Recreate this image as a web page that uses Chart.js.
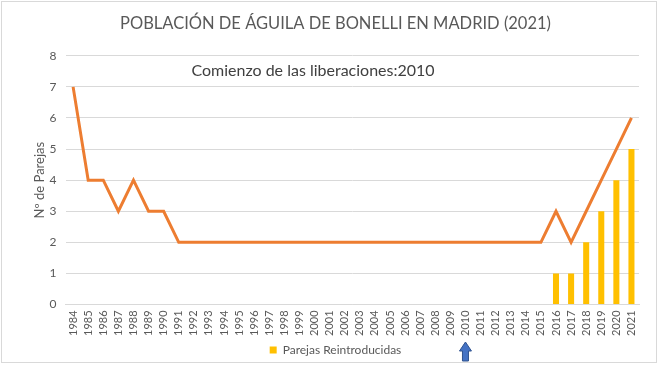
<!DOCTYPE html>
<html>
<head>
<meta charset="utf-8">
<script src="https://cdn.jsdelivr.net/npm/chart.js@4"></script>
<style>
  html, body { margin: 0; padding: 0; background: #fff; }
  #wrap { position: absolute; left: 1px; top: 1px; width: 656px; height: 362px; border: 1px solid #d9d9d9; box-sizing: border-box; }
  canvas { position: absolute; left: 0; top: 0; }
</style>
</head>
<body>
<div id="wrap"><canvas id="chart" width="654" height="360"></canvas></div>
<script>
// --- Datos ---
const years = ['1984','1985','1986','1987','1988','1989','1990','1991','1992','1993','1994','1995','1996','1997','1998','1999','2000','2001','2002','2003','2004','2005','2006','2007','2008','2009','2010','2011','2012','2013','2014','2015','2016','2017','2018','2019','2020','2021'];
const parejas = [7,4,4,3,4,3,3,2,2,2,2,2,2,2,2,2,2,2,2,2,2,2,2,2,2,2,2,2,2,2,2,2,3,2,3,4,5,6];
const reintroducidas = [null,null,null,null,null,null,null,null,null,null,null,null,null,null,null,null,null,null,null,null,null,null,null,null,null,null,null,null,null,null,null,null,1,1,2,3,4,5];
const yTicks = [0,1,2,3,4,5,6,7,8];
const startYear = '2010';
const notaTexto = 'Comienzo de las liberaciones:' + startYear;

const fontFam = 'Lato, "Open Sans", sans-serif';

// --- Texto y flecha ---
const extras = {
    id: 'extras',
    afterDraw(chart) {
        const c = chart.ctx;
        const x = chart.scales.x;
        const y = chart.scales.y;
        c.save();
        c.font = '16px ' + fontFam;
        c.fillStyle = '#404040';
        c.textAlign = 'center';
        c.textBaseline = 'middle';
        c.fillText(notaTexto, 311, y.getPixelForValue(7.53));

        // flecha azul bajo 2010
        const ax = x.getPixelForValue(years.indexOf(startYear));
        const top = 340, bot = 359;
        c.beginPath();
        c.moveTo(ax, top);
        c.lineTo(ax + 6, top + 9);
        c.lineTo(ax + 3, top + 9);
        c.lineTo(ax + 3, bot);
        c.lineTo(ax - 3, bot);
        c.lineTo(ax - 3, top + 9);
        c.lineTo(ax - 6, top + 9);
        c.closePath();
        c.fillStyle = '#4472c4';
        c.strokeStyle = '#2f528f';
        c.lineWidth = 1;
        c.fill();
        c.stroke();
        c.restore();
    }
};

const ctx = document.getElementById('chart').getContext('2d');
new Chart(ctx, {
    data: {
        labels: years,
        datasets: [{
            type: 'line',
            label: 'Parejas',
            data: parejas,
            borderColor: '#ed7d31',
            borderWidth: 3,
            pointRadius: 0,
            tension: 0,
            order: 0
        }, {
            type: 'bar',
            label: 'Parejas Reintroducidas',
            data: reintroducidas,
            backgroundColor: '#ffc000',
            barPercentage: 0.4,
            categoryPercentage: 1,
            order: 1
        }]
    },
    options: {
        responsive: false,
        animation: false,
        layout: { padding: { left: 30, right: 17, top: 8, bottom: -4 } },
        plugins: {
            title: {
                display: true,
                text: 'POBLACIÓN DE ÁGUILA DE BONELLI EN MADRID (2021)',
                color: '#595959',
                font: { family: fontFam, size: 16.5, weight: 'normal' },
                padding: { top: 4, bottom: 22 }
            },
            legend: {
                position: 'bottom',
                labels: {
                    filter: item => item.datasetIndex === 1,
                    boxWidth: 7,
                    boxHeight: 7,
                    color: '#595959',
                    font: { family: fontFam, size: 12 },
                    padding: 2
                }
            },
            tooltip: { enabled: false }
        },
        scales: {
            x: {
                offset: true,
                grid: { display: false, drawTicks: false },
                border: { color: '#d9d9d9' },
                ticks: {
                    color: '#595959',
                    font: { family: fontFam, size: 11 },
                    maxRotation: 90,
                    minRotation: 90,
                    autoSkip: false,
                    padding: 6
                }
            },
            y: {
                min: 0,
                max: 8,
                afterBuildTicks: axis => { axis.ticks = yTicks.map(v => ({ value: v })); },
                grid: { color: '#d9d9d9', drawTicks: false },
                border: { display: false },
                ticks: {
                    color: '#595959',
                    font: { family: fontFam, size: 12 },
                    padding: 9
                },
                title: {
                    display: true,
                    text: 'Nº de Parejas',
                    color: '#595959',
                    font: { family: fontFam, size: 13 },
                    padding: { top: 0, bottom: -7 }
                }
            }
        }
    },
    plugins: [extras]
});
</script>
</body>
</html>
